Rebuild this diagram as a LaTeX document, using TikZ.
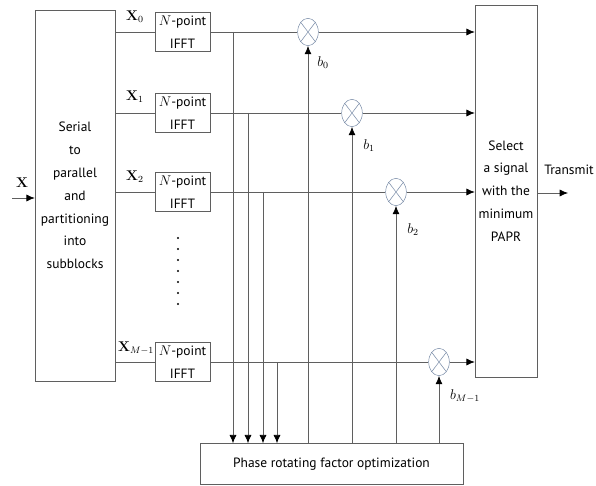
\documentclass[tikz,border=0pt]{standalone}
\usepackage{amsmath}
\usepackage[no-math]{fontspec}
\setmainfont{PT Sans}
\usetikzlibrary{arrows.meta,shapes.geometric}
\definecolor{linecol}{RGB}{95,95,95}
\definecolor{mulcol}{RGB}{110,130,160}
\tikzset{
  blk/.style={draw=linecol,fill=white,align=center,inner sep=1pt},
  mulnode/.style={ellipse,draw=mulcol,fill=white,minimum width=0.62cm,minimum height=0.82cm,inner sep=0pt,
    path picture={\draw[mulcol] (path picture bounding box.south west) -- (path picture bounding box.north east)
      (path picture bounding box.north west) -- (path picture bounding box.south east);}},
  wire/.style={draw=linecol,line width=0.6pt}
}

\begin{document}
\begin{tikzpicture}[x=0.03cm,y=-0.03cm,>={Latex[length=2.5mm,width=2.1mm,color=black]},font=\fontsize{11.5}{19.5}\selectfont]
\useasboundingbox (0,0) rectangle (596,486);
% left: splitter and the IFFT branches
\node[blk,minimum width=2.4cm,minimum height=11.13cm] (split) at (75,195.5) {Serial\\to\\parallel\\and\\partitioning\\into\\subblocks};
\coordinate (in) at (12,198);
\draw[wire,->] (in) -- (in -| split.west);
\node (xin) at (22,183) {$\mathbf{X}$};
\node[blk,minimum width=1.65cm,minimum height=1.17cm] (ifft0) at (182.5,32) {$N$-point\\IFFT};
\node[blk,minimum width=1.65cm,minimum height=1.17cm] (ifft1) at (182.5,113) {$N$-point\\IFFT};
\node[blk,minimum width=1.65cm,minimum height=1.17cm] (ifft2) at (182.5,192) {$N$-point\\IFFT};
\node[blk,minimum width=1.65cm,minimum height=1.17cm] (ifftm) at (182.5,362) {$N$-point\\IFFT};
\draw[wire] (split.east |- ifft0) -- (ifft0);
\draw[wire] (split.east |- ifft1) -- (ifft1);
\draw[wire] (split.east |- ifft2) -- (ifft2);
\draw[wire] (split.east |- ifftm) -- (ifftm);
\node (xl0) at (135,17) {$\mathbf{X}_0$};
\node (xl1) at (135,97) {$\mathbf{X}_1$};
\node (xl2) at (135,177) {$\mathbf{X}_2$};
\node (xlm) at (136,348) {$\mathbf{X}_{M-1}$};
\foreach \y in {238,249,...,304} \fill (178,\y) circle (0.9pt);
% middle: phase rotation
\node[mulnode] (mul0) at (308,32) {};
\node[mulnode] (mul1) at (352,113) {};
\node[mulnode] (mul2) at (396,192) {};
\node[mulnode] (mulm) at (439,362) {};
\draw[wire] (ifft0) -- (mul0);
\draw[wire] (ifft1) -- (mul1);
\draw[wire] (ifft2) -- (mul2);
\draw[wire] (ifftm) -- (mulm);
\node[blk,minimum width=7.89cm,minimum height=1.23cm] (opt) at (331.5,464) {Phase rotating factor optimization};
\coordinate (tap0) at (233,32);
\coordinate (tap1) at (248,113);
\coordinate (tap2) at (263,192);
\coordinate (tapm) at (277,362);
\draw[wire,->] (tap0) -- (tap0 |- opt.north);
\draw[wire,->] (tap1) -- (tap1 |- opt.north);
\draw[wire,->] (tap2) -- (tap2 |- opt.north);
\draw[wire,->] (tapm) -- (tapm |- opt.north);
\draw[wire,->] (mul0 |- opt.north) -- (mul0);
\draw[wire,->] (mul1 |- opt.north) -- (mul1);
\draw[wire,->] (mul2 |- opt.north) -- (mul2);
\draw[wire,->] (mulm |- opt.north) -- (mulm);
\node (b0) at (323,63) {$b_0$};
\node (b1) at (369,146) {$b_1$};
\node (b2) at (413,230) {$b_2$};
\node (bm) at (465,396) {$b_{M-1}$};
% right: selection
\node[blk,minimum width=1.86cm,minimum height=11.16cm] (sel) at (506,191) {Select\\a signal\\with the\\minimum\\PAPR};
\draw[wire,->] (mul0) -- (mul0 -| sel.west);
\draw[wire,->] (mul1) -- (mul1 -| sel.west);
\draw[wire,->] (mul2) -- (mul2 -| sel.west);
\draw[wire,->] (mulm) -- (mulm -| sel.west);
\coordinate (out) at (568,193);
\draw[wire,->] (sel.east |- out) -- (out);
\node (tx) at (569,170) {Transmit};
\end{tikzpicture}
\end{document}
